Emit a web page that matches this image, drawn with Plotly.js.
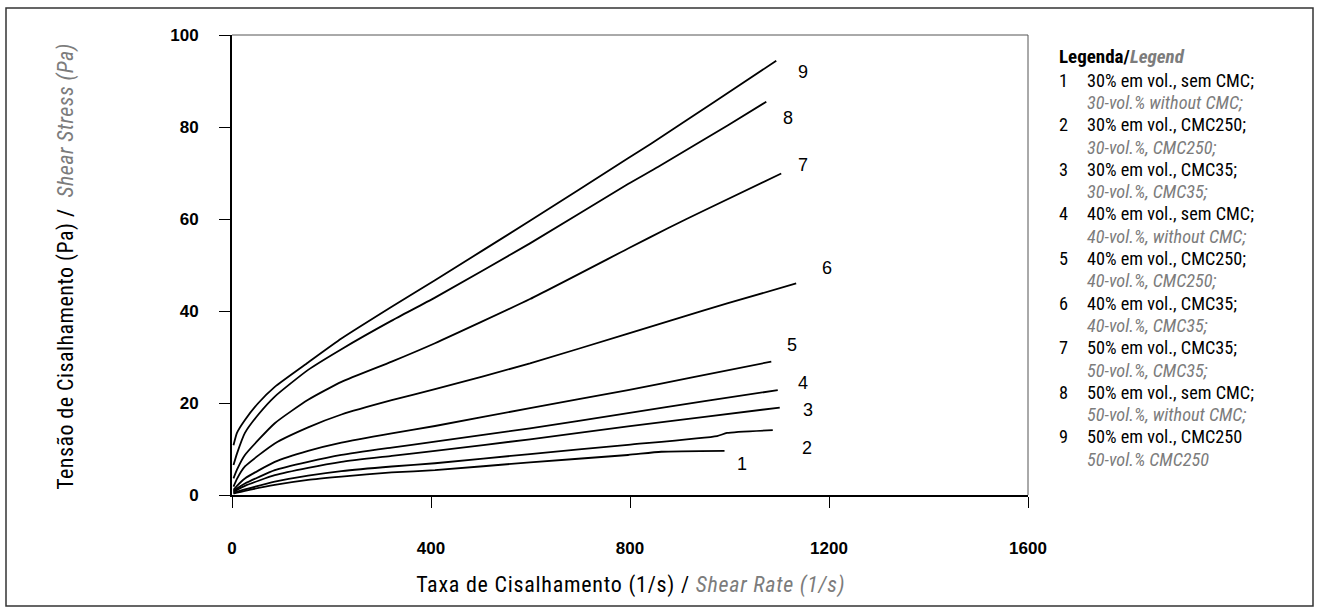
<!DOCTYPE html>
<html>
<head>
<meta charset="utf-8">
<script src="https://cdn.plot.ly/plotly-3.0.1.min.js"></script>
<style>
  html, body { margin: 0; padding: 0; background: #fff; }
  #chart { width: 1319px; height: 613px; }
  .annotation[data-index="9"] text { letter-spacing: 0.75px; }
  .annotation[data-index="10"] text { letter-spacing: 0.45px; }
</style>
</head>
<body>
<div id="chart"></div>
<script>
// ---- Data ----
const x1 = [3, 10, 26, 86, 153, 220, 321, 408, 599, 796, 863, 990];
const y1 = [0.3, 0.5, 0.9, 2.2, 3.3, 4.0, 4.9, 5.4, 7.1, 8.7, 9.4, 9.6];

const x2 = [3, 10, 26, 86, 153, 220, 321, 408, 599, 796, 975, 995, 1087];
const y2 = [0.4, 0.7, 1.2, 2.9, 4.2, 5.2, 6.2, 6.9, 8.9, 10.9, 12.8, 13.5, 14.1];

const x3 = [3, 10, 26, 86, 153, 220, 321, 408, 599, 796, 950, 1101];
const y3 = [0.6, 1.1, 2.0, 4.3, 5.9, 7.2, 8.5, 9.6, 12.1, 14.9, 17.0, 19.0];

const x4 = [3, 10, 26, 86, 153, 220, 321, 408, 599, 796, 950, 1097];
const y4 = [0.8, 1.4, 2.5, 5.4, 7.2, 8.7, 10.3, 11.6, 14.5, 17.8, 20.4, 22.8];

const x5 = [3, 10, 26, 86, 153, 220, 321, 408, 599, 796, 930, 1084];
const y5 = [1.1, 2.0, 3.6, 7.2, 9.6, 11.4, 13.4, 15.0, 18.9, 22.8, 25.7, 29.0];

const x6 = [3, 10, 26, 86, 153, 220, 321, 408, 599, 796, 896, 997, 1134];
const y6 = [1.8, 3.5, 6.2, 11.2, 14.7, 17.5, 20.6, 23.0, 28.6, 35.1, 38.4, 41.7, 46.0];

const x7 = [3, 10, 26, 86, 153, 220, 321, 408, 599, 800, 876, 950, 1104];
const y7 = [3.6, 5.5, 8.7, 15.6, 20.7, 24.6, 29.0, 33.0, 42.6, 53.8, 58.0, 61.9, 69.9];

const x8 = [3, 10, 26, 53, 86, 153, 220, 321, 408, 599, 796, 856, 997, 1074];
const y8 = [6.5, 9.0, 13.5, 17.5, 21.4, 27.2, 31.7, 37.9, 42.9, 54.7, 67.6, 71.3, 80.4, 85.5];

const x9 = [3, 10, 26, 53, 86, 153, 220, 321, 408, 599, 796, 843, 970, 1094];
const y9 = [10.8, 13.5, 16.3, 20.0, 23.5, 28.8, 34.0, 40.9, 46.7, 59.6, 73.2, 76.4, 85.5, 94.4];

const curveNames = ["1", "2", "3", "4", "5", "6", "7", "8", "9"];

const xTicks = [0, 400, 800, 1200, 1600];
const yTicks = [0, 20, 40, 60, 80, 100];

const xTitlePt = "Taxa de Cisalhamento (1/s) / ";
const xTitleEn = "Shear Rate (1/s)";
const yTitlePt = "Tensão de Cisalhamento (Pa) /  ";
const yTitleEn = "Shear Stress (Pa)";
const legendTitlePt = "Legenda/";
const legendTitleEn = "Legend";

const legendPt = [
  "30% em vol., sem CMC;",
  "30% em vol., CMC250;",
  "30% em vol., CMC35;",
  "40% em vol., sem CMC;",
  "40% em vol., CMC250;",
  "40% em vol., CMC35;",
  "50% em vol., CMC35;",
  "50% em vol., sem CMC;",
  "50% em vol., CMC250"
];
const legendEn = [
  "30-vol.% without CMC;",
  "30-vol.%, CMC250;",
  "30-vol.%, CMC35;",
  "40-vol.%, without CMC;",
  "40-vol.%, CMC250;",
  "40-vol.%, CMC35;",
  "50-vol.%, CMC35;",
  "50-vol.%, without CMC;",
  "50-vol.% CMC250"
];

// ---- Layout helpers (positions only, not data) ----
const labelPos = [
  [1025, 6.7], [1156, 10.2], [1158, 18.5], [1148, 24.3], [1126, 32.6],
  [1196, 49.3], [1148, 71.7], [1118, 82.0], [1148, 92.0]
];

// ---- font selection ----
const ctx = document.createElement("canvas").getContext("2d");
function hasFont(name) {
  const s = "abcdefghijklmnopqrstuvwxyzABCDEFGHIJ0123456789";
  const bases = ["monospace", "serif"];
  return bases.some(b => {
    ctx.font = "40px " + b;
    const w1 = ctx.measureText(s).width;
    ctx.font = "40px '" + name + "', " + b;
    const w2 = ctx.measureText(s).width;
    return Math.abs(w1 - w2) > 0.5;
  });
}
const narrowCandidates = ["Roboto Condensed", "Liberation Sans Narrow", "Open Sans Condensed",
  "Noto Sans Condensed", "DejaVu Sans Condensed", "Arial Narrow"];
let narrowName = narrowCandidates.find(hasFont) || "DejaVu Sans Condensed";
const NARROW = "'" + narrowName + "', 'DejaVu Sans Condensed', sans-serif";
const ARIAL = "Liberation Sans, Arial, Helvetica, sans-serif";
const GRAY = "#7c7c7c";

function measure(parts, weight) {
  let w = 0;
  parts.forEach(p => {
    ctx.font = (p[1] ? "italic " : "") + (weight || "normal") + " 100px " + NARROW;
    w += ctx.measureText(p[0]).width;
  });
  return w / 100;
}
function sizeFor(parts, target, weight, lo, hi) {
  const s = target / measure(parts, weight);
  return Math.max(lo, Math.min(hi, s));
}
const titleSize = 22;
const legSize = sizeFor([[legendPt[0], false]], 167, "normal", 13, 19);
const legTitleSize = sizeFor([[legendTitlePt, false], [legendTitleEn, true]], 126, "bold", 13, 19);

const xs = [x1, x2, x3, x4, x5, x6, x7, x8, x9];
const ys = [y1, y2, y3, y4, y5, y6, y7, y8, y9];

const traces = xs.map((xx, i) => ({
  type: "scatter",
  mode: "lines",
  x: xx,
  y: ys[i],
  name: curveNames[i],
  line: { color: "#000", width: 1.8, shape: "spline", smoothing: 0.5 },
  hoverinfo: "x+y+name"
}));

// plot area in px: left 232, right 1028, top 35, bottom 495
const L = 232, R = 1028, T = 35, B = 495;
const px = v => (v - L) / (R - L);
const py = v => (B - v) / (B - T);

const annotations = [];

curveNames.forEach((n, i) => {
  annotations.push({
    x: labelPos[i][0], y: labelPos[i][1], xref: "x", yref: "y",
    text: n, showarrow: false,
    font: { family: ARIAL, size: 18, color: "#000" },
    xanchor: "center", yanchor: "middle"
  });
});

// axis titles (annotation indices 9 and 10)
annotations.push({
  xref: "paper", yref: "paper", x: 0.5, y: py(585),
  text: xTitlePt + "<span style='color:" + GRAY + "'><i>" + xTitleEn + "</i></span>",
  showarrow: false, xanchor: "center", yanchor: "middle",
  font: { family: NARROW, size: titleSize, color: "#000" }
});
annotations.push({
  xref: "paper", yref: "paper", x: px(66), y: py(267),
  text: yTitlePt + "<span style='color:" + GRAY + "'><i>" + yTitleEn + "</i></span>",
  showarrow: false, xanchor: "center", yanchor: "middle", textangle: -90,
  font: { family: NARROW, size: titleSize, color: "#000" }
});

// legend block
annotations.push({
  xref: "paper", yref: "paper", x: px(1057), y: py(57),
  text: "<b>" + legendTitlePt + "</b><b><i><span style='color:" + GRAY + "'>" + legendTitleEn + "</span></i></b>",
  showarrow: false, xanchor: "left", yanchor: "middle",
  font: { family: NARROW, size: legTitleSize, color: "#000" }
});
legendPt.forEach((t, i) => {
  const yc = 80 + i * 44.6;
  annotations.push({
    xref: "paper", yref: "paper", x: px(1057), y: py(yc),
    text: curveNames[i], showarrow: false, xanchor: "left", yanchor: "middle",
    font: { family: NARROW, size: legSize, color: "#000" }
  });
  annotations.push({
    xref: "paper", yref: "paper", x: px(1085), y: py(yc),
    text: t, showarrow: false, xanchor: "left", yanchor: "middle",
    font: { family: NARROW, size: legSize, color: "#000" }
  });
  annotations.push({
    xref: "paper", yref: "paper", x: px(1085), y: py(yc + 22.4),
    text: "<i>" + legendEn[i] + "</i>", showarrow: false, xanchor: "left", yanchor: "middle",
    font: { family: NARROW, size: legSize, color: GRAY }
  });
});

const shapes = [
  { type: "rect", xref: "paper", yref: "paper",
    x0: px(6), x1: px(1313), y0: py(606), y1: py(8),
    line: { color: "#333", width: 1.5 }, fillcolor: "rgba(0,0,0,0)", layer: "below" },
  { type: "line", xref: "paper", yref: "paper", x0: 0, x1: 1, y0: 1, y1: 1,
    line: { color: "#555", width: 1 } },
  { type: "line", xref: "paper", yref: "paper", x0: 1, x1: 1, y0: 0, y1: 1,
    line: { color: "#555", width: 1 } }
];

const layout = {
  width: 1319, height: 613,
  margin: { l: L, r: 1319 - R, t: T, b: 613 - B, pad: 0 },
  paper_bgcolor: "#fff", plot_bgcolor: "#fff",
  showlegend: false,
  xaxis: {
    range: [0, 1600], tickvals: xTicks, ticktext: xTicks.map(String),
    showgrid: false, zeroline: false,
    showline: true, linecolor: "#000", linewidth: 2,
    ticks: "outside", ticklen: 11, tickwidth: 1, tickcolor: "#000",
    ticklabelstandoff: 26,
    tickfont: { family: ARIAL, size: 17, color: "#000", weight: "bold" },
    fixedrange: true
  },
  yaxis: {
    range: [0, 100], tickvals: yTicks, ticktext: yTicks.map(String),
    showgrid: false, zeroline: false,
    showline: true, linecolor: "#000", linewidth: 2,
    ticks: "outside", ticklen: 11, tickwidth: 1, tickcolor: "#000",
    ticklabelstandoff: 17,
    tickfont: { family: ARIAL, size: 17, color: "#000", weight: "bold" },
    fixedrange: true
  },
  annotations: annotations,
  shapes: shapes
};

Plotly.newPlot("chart", traces, layout, { displayModeBar: false });
</script>
</body>
</html>
